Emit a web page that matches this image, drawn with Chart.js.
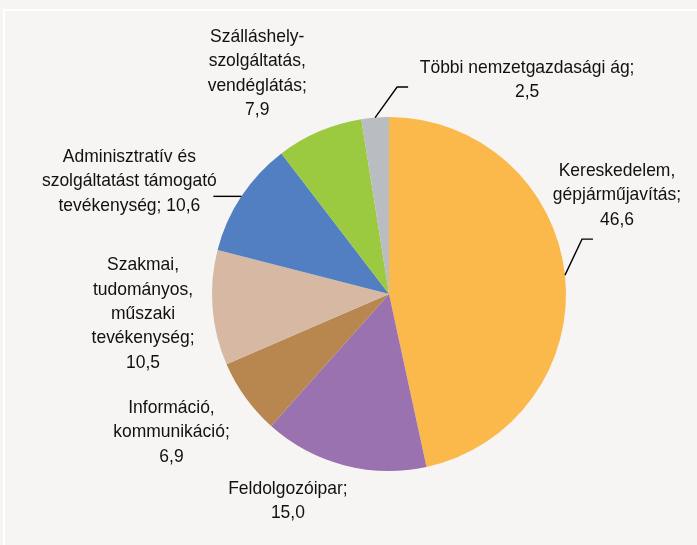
<!DOCTYPE html>
<html>
<head>
<meta charset="utf-8">
<script src="https://cdn.jsdelivr.net/npm/chart.js@4/dist/chart.umd.min.js"></script>
<style>
  html, body { margin: 0; padding: 0; background: #F6F5F3; }
  #wrap { position: relative; width: 697px; height: 545px; overflow: hidden; background: #F6F5F3; }
  #frame { position: absolute; left: 3px; top: 9px; width: 900px; height: 900px; border: 2px solid #FFFFFF; box-sizing: border-box; }
  canvas { position: absolute; left: 0; top: 0; }
</style>
</head>
<body>
<div id="wrap">
  <div id="frame"></div>
  <canvas id="c" width="697" height="545"></canvas>
</div>
<script>
// ---- data ----
const categories = [
  'Kereskedelem, gépjárműjavítás',
  'Feldolgozóipar',
  'Információ, kommunikáció',
  'Szakmai, tudományos, műszaki tevékenység',
  'Adminisztratív és szolgáltatást támogató tevékenység',
  'Szálláshely-szolgáltatás, vendéglátás',
  'Többi nemzetgazdasági ág'
];
const values = [46.6, 15.0, 6.9, 10.5, 10.6, 7.9, 2.5];
const labelLines = [
  ['Kereskedelem,', 'gépjárműjavítás;', '{v}'],
  ['Feldolgozóipar;', '{v}'],
  ['Információ,', 'kommunikáció;', '{v}'],
  ['Szakmai,', 'tudományos,', 'műszaki', 'tevékenység;', '{v}'],
  ['Adminisztratív és', 'szolgáltatást támogató', 'tevékenység; {v}'],
  ['Szálláshely-', 'szolgáltatás,', 'vendéglátás;', '{v}'],
  ['Többi nemzetgazdasági ág;', '{v}']
];
const colors = ['#FBB84B', '#9A72B0', '#B8864F', '#D6B8A3', '#527FC1', '#9BC93F', '#B9BDC2'];

// ---- label layout (offsets from each slice's outer mid-point) ----
const labelOffsets = [
  [52, -80], [-56, 36], [-74, 34.5], [-69.5, 6], [-112, -15], [-62, -58], [152, -38]
];
const leaderPaths = [
  [[17, -36], [28, -36]],
  null,
  null,
  null,
  [[-28, 0]],
  null,
  [[22, -30.5], [33, -30.5]]
];

const fmt = v => v.toFixed(1).replace('.', ',');

const labelPlugin = {
  id: 'pieLabels',
  afterDatasetsDraw(chart) {
    const ctx = chart.ctx;
    const meta = chart.getDatasetMeta(0);
    meta.data.forEach((arc, i) => {
      const p = arc.getProps(['x', 'y', 'startAngle', 'endAngle', 'outerRadius'], true);
      const mid = (p.startAngle + p.endAngle) / 2;
      const ax = p.x + Math.cos(mid) * p.outerRadius;
      const ay = p.y + Math.sin(mid) * p.outerRadius;
      ctx.save();
      const path = leaderPaths[i];
      if (path) {
        ctx.beginPath();
        ctx.strokeStyle = '#000';
        ctx.lineWidth = 1.4;
        ctx.moveTo(ax, ay);
        path.forEach(pt => ctx.lineTo(ax + pt[0], ay + pt[1]));
        ctx.stroke();
      }
      const lines = labelLines[i].map(s => s.replace('{v}', fmt(values[i])));
      const lh = 24.3;
      const cx = ax + labelOffsets[i][0];
      const cy = ay + labelOffsets[i][1];
      const sx = 0.94;
      ctx.translate(cx, cy);
      ctx.scale(sx, 1);
      ctx.fillStyle = '#111';
      ctx.font = '18.6px "Liberation Sans", Arial, sans-serif';
      ctx.textAlign = 'center';
      ctx.textBaseline = 'middle';
      const top = -(lines.length - 1) * lh / 2;
      lines.forEach((s, k) => ctx.fillText(s, 0, top + k * lh));
      ctx.restore();
    });
  }
};

new Chart(document.getElementById('c'), {
  type: 'pie',
  data: {
    labels: categories,
    datasets: [{
      data: values,
      backgroundColor: colors,
      borderWidth: 0
    }]
  },
  options: {
    responsive: false,
    animation: false,
    layout: { padding: { left: 212, right: 131, top: 117, bottom: 74 } },
    plugins: { legend: { display: false }, tooltip: { enabled: false } }
  },
  plugins: [labelPlugin]
});
</script>
</body>
</html>
